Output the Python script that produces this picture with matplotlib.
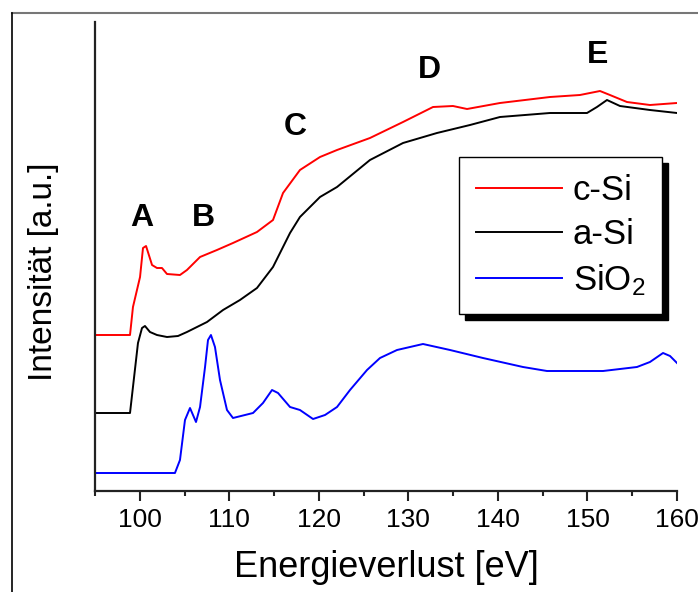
import matplotlib
matplotlib.use("Agg")
import matplotlib.pyplot as plt
from matplotlib.lines import Line2D
from matplotlib.patches import Rectangle
from matplotlib.ticker import MultipleLocator

plt.rcParams['font.family'] = ['Liberation Sans', 'DejaVu Sans']
plt.rcParams['mathtext.fontset'] = 'custom'
plt.rcParams['mathtext.rm'] = 'Liberation Sans'
plt.rcParams['mathtext.default'] = 'rm'

# ---- data (energy loss in eV, intensity in arbitrary units) ----
csi_x = [95.0, 98.91, 99.24, 100.03, 100.36, 100.70, 101.37, 101.92, 102.48, 103.04,
         104.49, 105.27, 106.73, 108.62, 110.41, 113.09, 114.88, 116.00, 117.89, 120.13,
         122.03, 125.71, 129.40, 132.75, 134.98, 136.55, 140.23, 145.81, 149.16, 151.40,
         152.51, 154.41, 156.98, 160.0]
csi_y = [156, 156, 184, 214, 243, 245, 226, 223, 223, 217,
         216, 221, 234, 241, 248, 259, 271, 298, 321, 334,
         341, 353, 369, 384, 385, 382, 388, 394, 396, 400,
         396, 389, 386, 388]

asi_x = [95.0, 98.91, 99.24, 99.80, 100.25, 100.58, 101.14, 101.92, 103.04, 104.27,
         105.27, 107.51, 109.30, 111.19, 113.09, 114.88, 116.78, 117.89, 120.13, 122.03,
         125.71, 129.40, 133.19, 136.88, 140.23, 145.81, 149.95, 151.06, 152.18, 153.63,
         156.98, 160.0]
asi_y = [78, 78, 104, 148, 163, 165, 159, 156, 154, 155,
         159, 169, 181, 191, 203, 224, 258, 274, 294, 304,
         331, 348, 358, 366, 374, 378, 378, 384, 391, 385,
         381, 378]

sio2_x = [95.0, 103.93, 104.49, 105.05, 105.61, 106.28, 106.73, 107.29, 107.62, 107.95,
          108.40, 108.96, 109.74, 110.41, 112.65, 113.76, 114.77, 115.44, 116.78, 117.89,
          119.35, 120.69, 122.03, 123.48, 125.38, 126.83, 128.73, 131.63, 134.65, 138.33,
          142.80, 145.48, 148.61, 151.74, 155.53, 156.98, 158.44, 159.22, 160.0]
sio2_y = [18, 18, 31, 71, 83, 69, 84, 124, 151, 156,
          144, 111, 81, 73, 78, 88, 101, 98, 84, 81,
          72, 76, 84, 101, 121, 133, 141, 147, 141, 133,
          124, 120, 120, 120, 124, 129, 138, 135, 128]

series_labels = ['c-Si', 'a-Si', 'SiO$_2$']
series_colors = ['#ff0000', '#000000', '#0000ff']

peak_labels = ['A', 'B', 'C', 'D', 'E']
peak_x = [100.25, 107.06, 117.33, 132.30, 151.17]
peak_y = [273, 273, 364, 421, 436]

x_major = [100, 110, 120, 130, 140, 150, 160]

# ---- figure ----
W, H = 698, 592
fig = plt.figure(figsize=(W / 100, H / 100), dpi=100)
ax = fig.add_axes([95 / W, 1 - 491 / H, (677 - 95) / W, (491 - 22) / H])

lines = []
for xs, ys, lab, col in zip([csi_x, asi_x, sio2_x], [csi_y, asi_y, sio2_y],
                            series_labels, series_colors):
    ln, = ax.plot(xs, ys, color=col, lw=1.4, label=lab)
    lines.append(ln)

for lab, px, py in zip(peak_labels, peak_x, peak_y):
    ax.text(px, py, lab, ha='center', va='center', fontsize=23, fontweight='bold')

ax.set_xlim(95, 160)
ax.set_ylim(0, 469)
ax.set_xticks(x_major)
ax.xaxis.set_minor_locator(MultipleLocator(5))
ax.set_yticks([])
for s in ['top', 'right']:
    ax.spines[s].set_visible(False)
for s in ['left', 'bottom']:
    ax.spines[s].set_linewidth(1.6)
    ax.spines[s].set_color('#222222')
ax.tick_params(axis='x', which='major', length=7, width=1.5, direction='out',
               labelsize=19, pad=5, color='#222222')
ax.tick_params(axis='x', which='minor', length=3.5, width=1.5, direction='out',
               color='#222222')

ax.set_xlabel('Energieverlust [eV]', fontsize=26, labelpad=13)
ax.set_ylabel('Intensität [a.u.]', fontsize=24)
ax.yaxis.set_label_coords(-0.062, 0.467)

leg = ax.legend(handles=lines, loc='upper left',
                bbox_to_anchor=(459 / W, 1 - 157 / H), bbox_transform=fig.transFigure,
                fontsize=25, frameon=True, fancybox=False, framealpha=1,
                edgecolor='black', handlelength=2.5, handletextpad=0.3,
                labelspacing=0.32, borderpad=0.48, borderaxespad=0)
leg.get_frame().set_linewidth(1.0)
leg.set_zorder(5)

# shadow behind the legend
fig.canvas.draw()
bb = leg.get_window_extent()
sh = Rectangle((bb.x0 + 6, bb.y0 - 6), bb.width, bb.height, transform=None,
               facecolor='black', edgecolor='black', zorder=4)
ax.add_artist(sh)

# outer frame lines
fig.add_artist(Line2D([12 / W, 1.0], [1 - 13 / H, 1 - 13 / H], color='#777777', lw=1.5))
fig.add_artist(Line2D([12 / W, 12 / W], [0, 1 - 13 / H], color='black', lw=1.2))

fig.savefig('out.png', dpi=100)
